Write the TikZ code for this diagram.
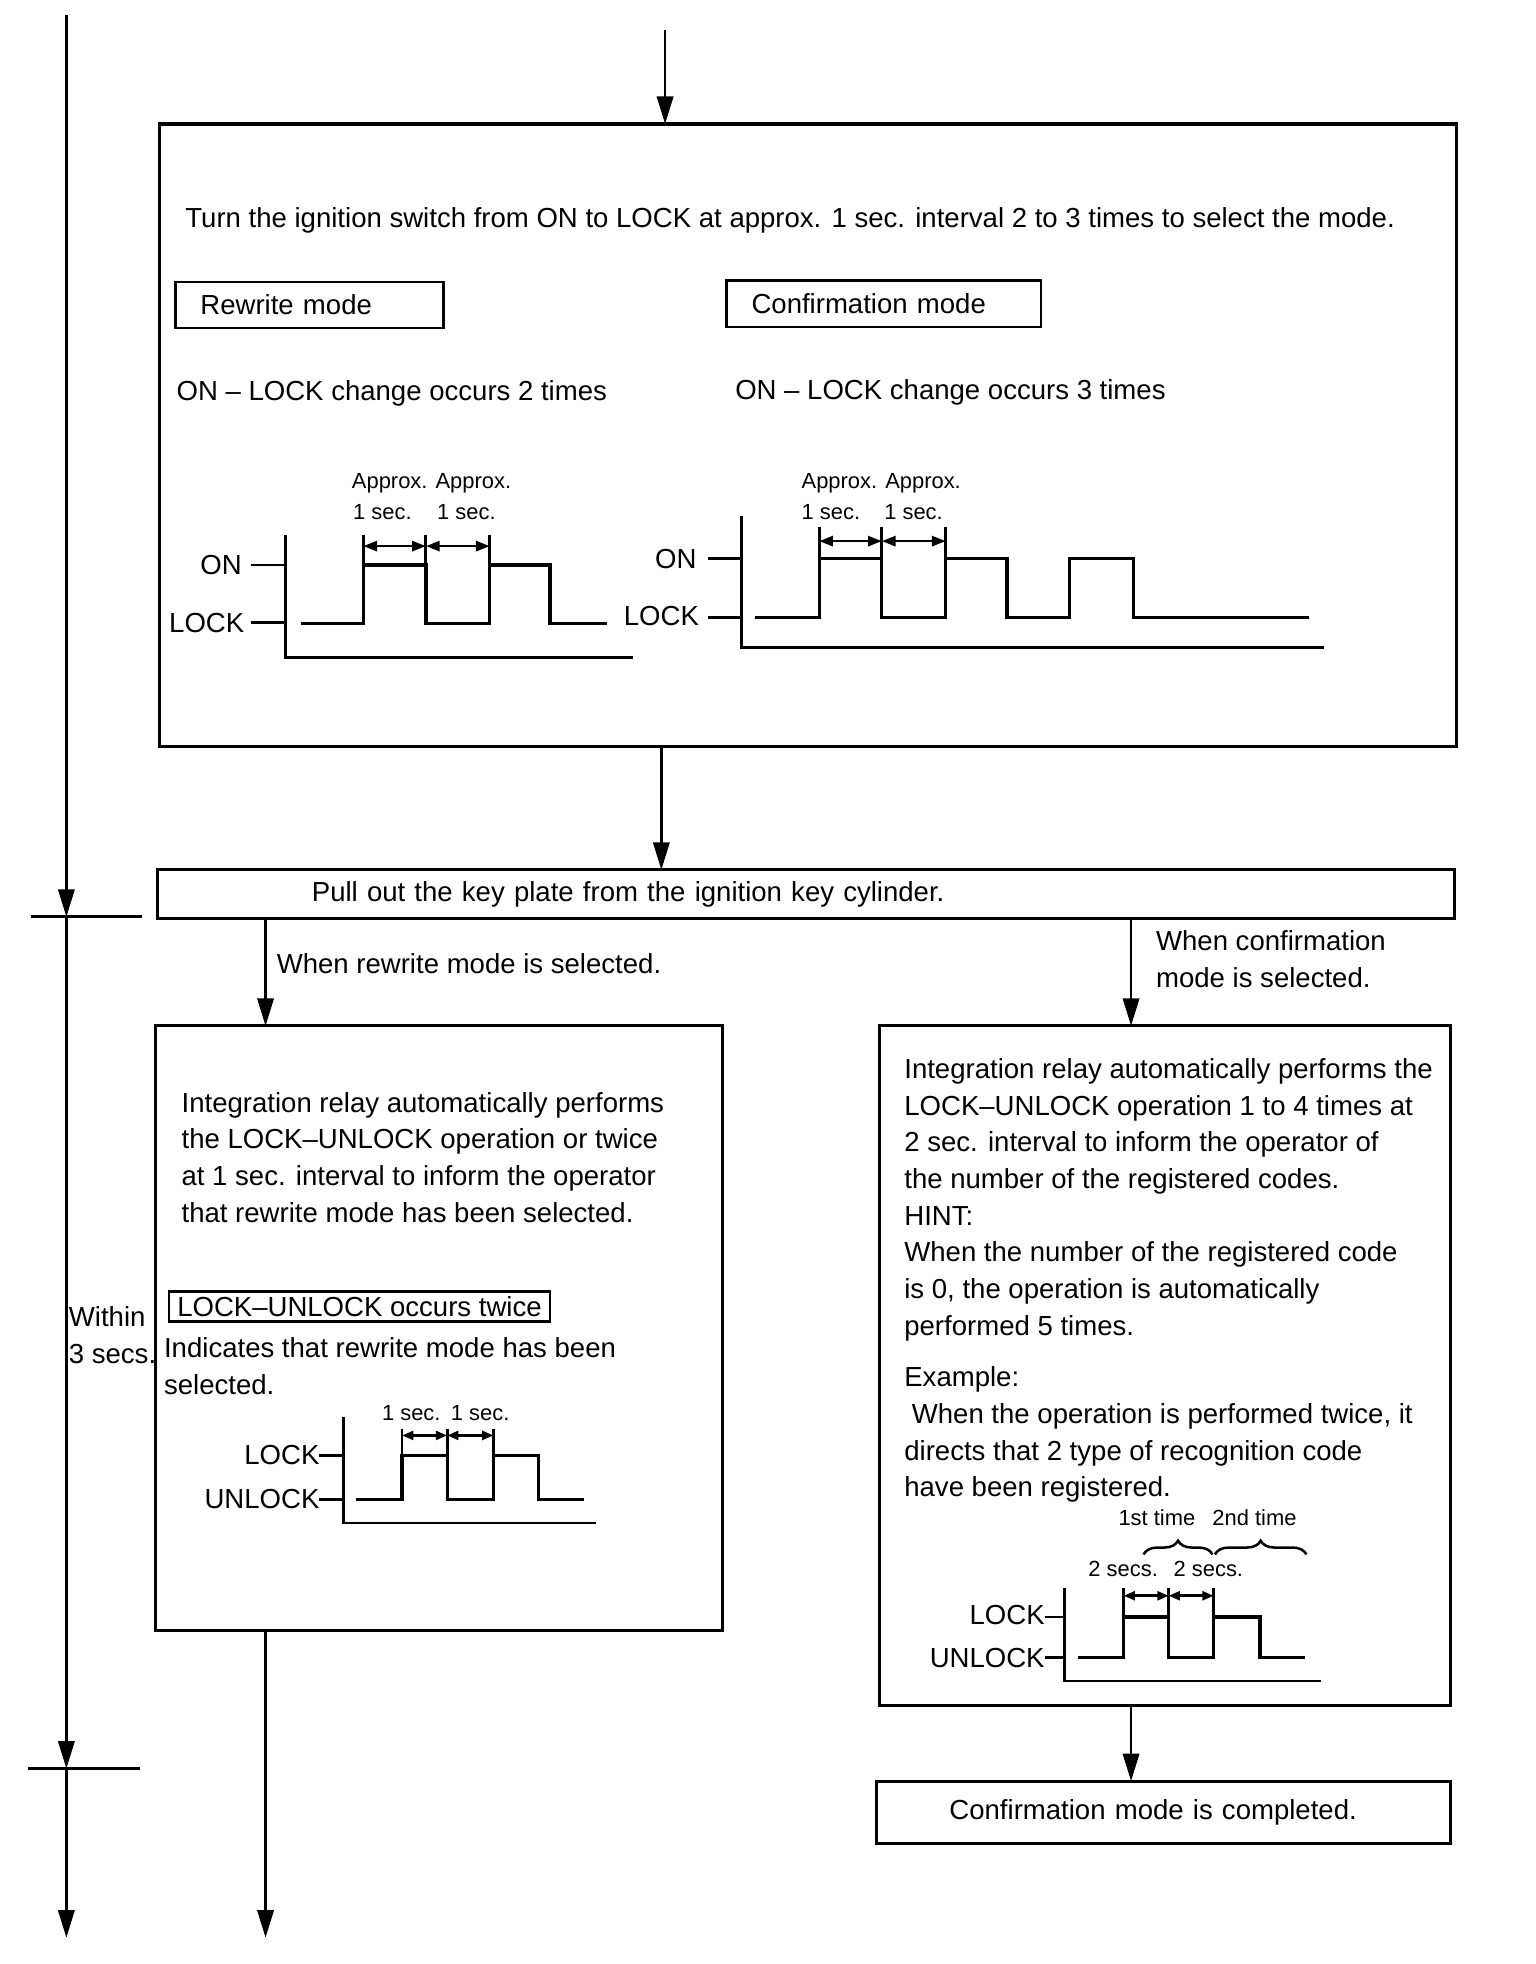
\documentclass[tikz,border=0pt]{standalone}
\usepackage{fontspec}
\setmainfont{Liberation Sans}
\usetikzlibrary{arrows.meta,decorations.pathreplacing,calc}
\begin{document}
\begin{tikzpicture}[x=1pt,y=-1pt,
  every node/.style={inner sep=0pt, outer sep=0pt},
  body/.style={font=\fontsize{22}{29.3}\selectfont},
  small/.style={font=\fontsize{17.5}{21}\selectfont},
  box/.style={draw, line width=2.4pt},
  ln/.style={line width=2.2pt},
  wave/.style={line width=2.6pt, line join=miter},
  arr/.style={line width=2.2pt, -{Triangle[length=22pt,width=13pt]}},
  dim/.style={line width=2.2pt, {Triangle[length=11pt,width=8pt]}-{Triangle[length=11pt,width=8pt]}},
  sdim/.style={line width=2.2pt, {Triangle[length=9pt,width=7pt]}-{Triangle[length=9pt,width=7pt]}},
  para/.style={body, anchor=north west, align=left},
  lbl/.style={body, anchor=base west},
  slbl/.style={small, anchor=base west},
  rlbl/.style={body, anchor=base east},
]
\useasboundingbox (0,0) rectangle (1226,1568);

% ---------------- boxes
\node[box, minimum width=1036pt, minimum height=497pt] (b1) at (645,347.5) {};
\node[box, body, minimum width=1035pt, minimum height=39pt, text width=789pt, inner xsep=123pt, align=left] (b2) at (643.5,714) {Pull out the key plate from the ignition key cylinder.};
\node[box, minimum width=453pt, minimum height=483pt] (b3) at (350.5,1060.5) {};
\node[box, minimum width=456pt, minimum height=543pt] (b4) at (930,1090.5) {};
\node[box, body, minimum width=458pt, minimum height=50pt, text width=342pt, inner xsep=58pt, align=left] (b5) at (929,1447) {Confirmation mode is completed.};

% ---------------- left time line
\coordinate (t0) at (53,12);
\coordinate (t1) at (53,732);
\coordinate (t2) at (53,1412);
\coordinate (t3) at (53,1547);
\draw[arr] (t0) -- (t1);
\draw[arr] (t1) -- (t2);
\draw[arr] (t2) -- (t3);
\draw[ln] (25,732) -- (113,732);
\draw[ln] (22,1412) -- (112,1412);
\node[para] (within) at (55,1038.5) {\strut Within\\3 secs.};

% ---------------- connectors
\coordinate (top) at (531,24);
\coordinate (xm) at (528,0);
\coordinate (xl) at (212,0);
\coordinate (xr) at (903,0);
\coordinate (bot) at (212,1547);
\draw[arr] (top) -- (top |- b1.north);
\draw[arr] (b1.south -| xm) -- (xm |- b2.north);
\draw[arr] (b2.south -| xl) -- (xl |- b3.north);
\draw[arr] (b2.south -| xr) -- (xr |- b4.north);
\draw[arr] (b4.south -| xr) -- (xr |- b5.north);
\draw[arr] (b3.south -| xl) -- (bot);
\node[lbl] (lrw) at (221,777) {When rewrite mode is selected.};
\node[para] (lcf) at (923,738.5) {\strut When confirmation\\mode is selected.};

% ---------------- box 1 contents
\node[lbl] (turn) at (148,182) {Turn the ignition switch from ON to LOCK at approx. 1 sec. interval 2 to 3 times to select the mode.};
\node[box, line width=2pt, body, minimum width=214pt, minimum height=37pt, text width=174pt, inner xsep=20pt, align=left] (rw) at (247,243.5) {Rewrite mode};
\node[box, line width=2pt, body, minimum width=251pt, minimum height=37pt, text width=211pt, inner xsep=20pt, align=left] (cf) at (705.5,242.5) {Confirmation mode};
\node[lbl] (on2t) at (141,320) {ON – LOCK change occurs 2 times};
\node[lbl] (on3t) at (587,319) {ON – LOCK change occurs 3 times};

% diagram 1
\node[slbl] (ap1) at (281,390) {Approx. Approx.};
\node[slbl] (s11) at (282,415) {1 sec.};
\node[slbl] (s12) at (349,415) {1 sec.};
\node[rlbl] (on1) at (193,459) {ON};
\node[rlbl] (lk1) at (195,505) {LOCK};
\draw[ln] (200,451) -- (228,451);
\draw[ln] (200,497) -- (228,497);
\draw[ln] (228,427) -- (228,525) -- (505,525);
\draw[wave] (240,498) -- (290,498) -- (290,451) -- (340,451) -- (340,498) -- (391,498) -- (391,451) -- (439,451) -- (439,498) -- (485,498);
\draw[ln] (290,427) -- (290,451) (340,427) -- (340,451) (391,427) -- (391,451);
\draw[dim] (290,436) -- (340,436);
\draw[dim] (340,436) -- (391,436);

% diagram 2
\node[slbl] (ap2) at (640,390) {Approx. Approx.};
\node[slbl] (s21) at (640,415) {1 sec.};
\node[slbl] (s22) at (706,415) {1 sec.};
\node[rlbl] (on2) at (556,454) {ON};
\node[rlbl] (lk2) at (558,499) {LOCK};
\draw[ln] (565,446) -- (592,446);
\draw[ln] (565,493) -- (592,493);
\draw[ln] (592,412) -- (592,517) -- (1057,517);
\draw[wave] (603,493) -- (654,493) -- (654,446) -- (704,446) -- (704,493) -- (755,493) -- (755,446) -- (804,446) -- (804,493) -- (854,493) -- (854,446) -- (905,446) -- (905,493) -- (1045,493);
\draw[ln] (654,421) -- (654,446) (704,421) -- (704,446) (755,421) -- (755,446);
\draw[dim] (654,432) -- (704,432);
\draw[dim] (704,432) -- (755,432);

% ---------------- box 3 contents
\node[para] (p3) at (145,867.5) {\strut Integration relay automatically performs\\the LOCK–UNLOCK operation or twice\\at 1 sec. interval to inform the operator\\that rewrite mode has been selected.};
\node[box, line width=2pt, body, minimum width=304pt, minimum height=24pt] (lu) at (287,1043) {LOCK–UNLOCK occurs twice};
\node[para] (ind) at (131,1063.5) {\strut Indicates that rewrite mode has been\\selected.};
\node[slbl] (s31) at (305,1134) {1 sec.};
\node[slbl] (s32) at (360,1134) {1 sec.};
\node[rlbl] (lk3) at (255,1169) {LOCK};
\node[rlbl] (ul3) at (255,1204) {UNLOCK};
\draw[ln] (255,1162) -- (274,1162);
\draw[ln] (255,1197) -- (274,1197);
\draw[ln] (274,1131) -- (274,1216) -- (476,1216);
\draw[wave] (284,1197) -- (321,1197) -- (321,1162) -- (357,1162) -- (357,1197) -- (394,1197) -- (394,1162) -- (430,1162) -- (430,1197) -- (466,1197);
\draw[ln] (321,1141) -- (321,1162) (357,1141) -- (357,1162) (394,1141) -- (394,1162);
\draw[sdim] (321,1146) -- (357,1146);
\draw[sdim] (357,1146) -- (394,1146);

% ---------------- box 4 contents
\node[para] (p4) at (722,840.5) {\strut Integration relay automatically performs the\\LOCK–UNLOCK operation 1 to 4 times at\\2 sec. interval to inform the operator of\\the number of the registered codes.\\HINT:\\When the number of the registered code\\is 0, the operation is automatically\\performed 5 times.};
\node[para] (p4b) at (722,1086.5) {\strut Example:\\\hspace*{6pt}When the operation is performed twice, it\\directs that 2 type of recognition code\\have been registered.};
\node[slbl] (t1st) at (893,1218) {1st time};
\node[slbl] (t2nd) at (968,1218) {2nd time};
\draw[ln, line width=2pt, decorate, decoration={brace, amplitude=11pt}] (913,1241) -- (968,1241);
\draw[ln, line width=2pt, decorate, decoration={brace, amplitude=11pt}] (970,1241) -- (1043,1241);
\node[slbl] (s41) at (869,1259) {2 secs.};
\node[slbl] (s42) at (937,1259) {2 secs.};
\node[rlbl] (lk4) at (834,1297) {LOCK};
\node[rlbl] (ul4) at (834,1331) {UNLOCK};
\draw[ln] (834,1291) -- (850,1291);
\draw[ln] (834,1323) -- (850,1323);
\draw[ln] (850,1268) -- (850,1342) -- (1055,1342);
\draw[wave] (861,1323) -- (897,1323) -- (897,1291) -- (933,1291) -- (933,1323) -- (969,1323) -- (969,1291) -- (1006,1291) -- (1006,1323) -- (1042,1323);
\draw[ln] (897,1268) -- (897,1291) (933,1268) -- (933,1291) (969,1268) -- (969,1291);
\draw[sdim] (897,1274) -- (933,1274);
\draw[sdim] (933,1274) -- (969,1274);
\end{tikzpicture}
\end{document}
